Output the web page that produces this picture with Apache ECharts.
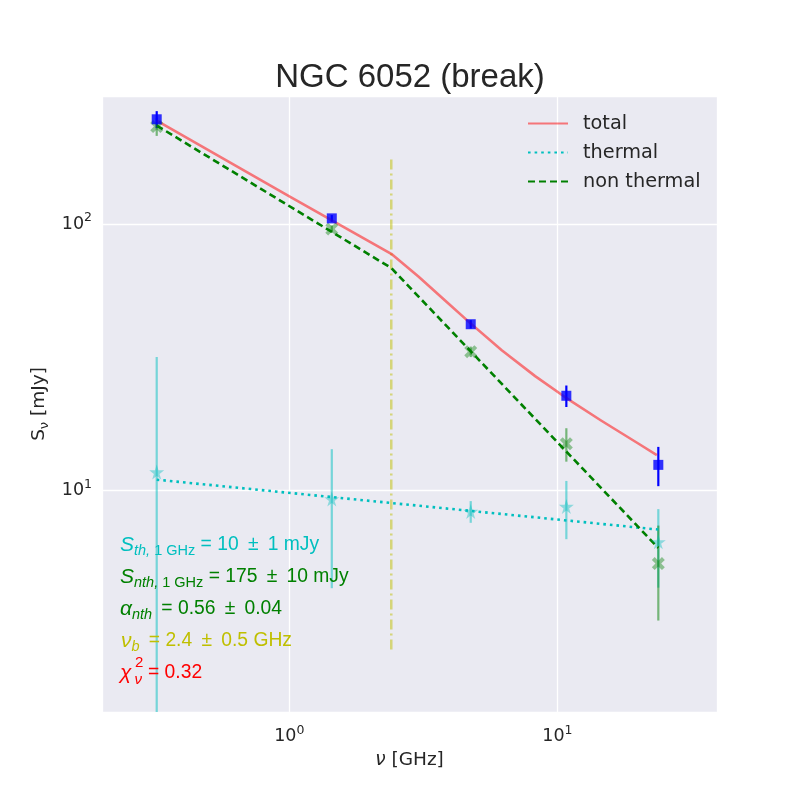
<!DOCTYPE html>
<html>
<head>
<meta charset="utf-8">
<script src="https://cdn.jsdelivr.net/npm/echarts@6/dist/echarts.min.js"></script>
<style>
html, body { margin: 0; padding: 0; background: #fff; }
#chart { width: 800px; height: 800px; }
</style>
</head>
<body>
<div id="chart"></div>
<script>
// measured points (GHz, mJy)
var freq = [0.32, 1.44, 4.75, 10.8, 23.8];
var fluxTotal = [247, 105, 42.1, 22.7, 12.5];
var errTotal = [18, 3, 1.5, 2.1, 2.1];
var fluxNth = [232, 95.8, 33.2, 15.0, 5.33];
var errNth = [18, 3, 1.5, 2.15, 2.07];
var fluxTh = [11.75, 9.31, 8.36, 8.73, 6.43];
var errTh = [20, 5, 0.78, 2.15, 2.1];

// fitted curves
var totFreq = [0.32, 1.0, 2.4, 3.03, 3.81, 4.72, 6.2, 8.26, 10.7, 14.6, 20.1, 23.5];
var totVal = [244, 127, 77.3, 63.6, 51.7, 42.6, 33.6, 26.9, 22.4, 18.3, 15.0, 13.6];
var thFreq = [0.32, 23.8];
var thVal = [11.0, 7.15];
var nthFreq = [0.32, 2.4, 23.8];
var nthVal = [234, 68.4, 6.1];

// break frequency marker
var breakFreq = 2.4;
var breakSpan = [2.54, 177];

var xMin = 0.2, xMax = 39.4;
var yMin = 1.48, yMax = 302;

function pairs(xs, ys) {
    return xs.map(function (x, i) { return [x, ys[i]]; });
}

function errSeries(xs, ys, es, color, width, z) {
    var data = xs.map(function (x, i) {
        return [x, Math.max(ys[i] - es[i], yMin), ys[i] + es[i]];
    });
    return {
        type: 'custom',
        data: data,
        encode: { x: 0, y: [1, 2] },
        clip: true,
        z: z,
        silent: true,
        renderItem: function (params, api) {
            var p1 = api.coord([api.value(0), api.value(1)]);
            var p2 = api.coord([api.value(0), api.value(2)]);
            return {
                type: 'line',
                shape: { x1: p1[0], y1: p1[1], x2: p2[0], y2: p2[1] },
                style: { stroke: color, lineWidth: width }
            };
        }
    };
}

var starPath = 'path://M50,0L61,35L98,35L68,57L79,90L50,69L21,90L32,57L2,35L39,35Z';
var crossPath = 'path://M22,0L50,28L78,0L100,22L72,50L100,78L78,100L50,72L22,100L0,78L28,50L0,22Z';

var sansMath = 'DejaVu Sans';
var sansText = 'Liberation Sans';
var ink = '#262626';

function powLabel(v) {
    var e = Math.round(Math.log10(v));
    if (Math.abs(Math.log10(v) - e) > 1e-6) return '';
    return '{b|10}{sup|' + e + '}';
}

var tickRich = {
    b: { fontSize: 17.5, fontFamily: sansMath, color: ink },
    sup: { fontSize: 12.5, fontFamily: sansMath, color: ink, padding: [0, 0, 12, 0] }
};

var thin = '\u2009';

var myChart = echarts.init(document.getElementById('chart'));

option = {
    backgroundColor: '#ffffff',
    animation: false,
    grid: {
        left: 102, right: 83, top: 96, bottom: 88,
        show: true, backgroundColor: '#EAEAF2', borderWidth: 0
    },
    legend: {
        data: ['total', 'thermal', 'non thermal'],
        orient: 'vertical',
        left: 522,
        top: 109,
        itemWidth: 40,
        itemHeight: 20,
        itemGap: 10,
        itemStyle: { color: 'rgba(0,0,0,0)', borderWidth: 0, opacity: 0 },
        textStyle: { fontSize: 19.3, fontFamily: sansMath, color: ink, padding: [0, 0, 0, 10] }
    },
    xAxis: {
        type: 'log',
        logBase: 10,
        min: xMin,
        max: xMax,
        axisLine: { show: false },
        axisTick: { show: false },
        splitLine: { show: true, lineStyle: { color: '#ffffff', width: 1.3 } },
        axisLabel: {
            showMinLabel: false, showMaxLabel: false,
            margin: 12,
            fontSize: 17.5, fontFamily: sansMath, color: ink,
            formatter: powLabel, rich: tickRich
        },
        name: '{i|ν} [GHz]',
        nameLocation: 'middle',
        nameGap: 39,
        nameTextStyle: {
            fontSize: 18.5, fontFamily: sansMath, color: ink,
            rich: { i: { fontSize: 18.5, fontFamily: sansMath, fontStyle: 'italic', color: ink } }
        }
    },
    yAxis: {
        type: 'log',
        logBase: 10,
        min: yMin,
        max: yMax,
        axisLine: { show: false },
        axisTick: { show: false },
        splitLine: { show: true, lineStyle: { color: '#ffffff', width: 1.3 } },
        axisLabel: {
            showMinLabel: false, showMaxLabel: false,
            margin: 10,
            fontSize: 17.5, fontFamily: sansMath, color: ink,
            formatter: powLabel, rich: tickRich
        },
        name: 'S{sub|ν} [mJy]',
        nameLocation: 'middle',
        nameGap: 51,
        nameTextStyle: {
            fontSize: 18.5, fontFamily: sansMath, color: ink,
            rich: { sub: { fontSize: 13, fontFamily: sansMath, color: ink, padding: [10, 0, 0, 0] } }
        }
    },
    series: [
        {
            name: 'break', type: 'line', symbol: 'none', silent: true, z: 2,
            data: [[breakFreq, breakSpan[0]], [breakFreq, breakSpan[1]]],
            lineStyle: { color: 'rgba(191,191,0,0.5)', width: 2.5, type: [10, 4, 2, 4] }
        },
        errSeries(freq, fluxTh, errTh, 'rgba(0,191,191,0.5)', 2.2, 3),
        errSeries(freq, fluxNth, errNth, 'rgba(0,128,0,0.5)', 2.2, 3),
        errSeries(freq, fluxTotal, errTotal, '#0000ff', 2.2, 4),
        {
            name: 'total', type: 'line', symbol: 'none', z: 5,
            data: pairs(totFreq, totVal),
            lineStyle: { color: 'rgba(255,0,0,0.5)', width: 2.6, join: 'round' },
            itemStyle: { color: 'rgba(255,0,0,0.5)' }
        },
        {
            name: 'thermal', type: 'line', symbol: 'none', z: 5,
            data: pairs(thFreq, thVal),
            lineStyle: { color: '#00BFBF', width: 2.6, type: [2.6, 4] },
            itemStyle: { color: '#00BFBF' }
        },
        {
            name: 'non thermal', type: 'line', symbol: 'none', z: 5,
            data: pairs(nthFreq, nthVal),
            lineStyle: { color: '#008000', width: 2.6, type: [7, 4] },
            itemStyle: { color: '#008000' }
        },
        {
            type: 'scatter', symbol: starPath, symbolSize: 15, z: 6, silent: true,
            data: pairs(freq, fluxTh),
            itemStyle: { color: 'rgba(0,191,191,0.5)' }
        },
        {
            type: 'scatter', symbol: crossPath, symbolSize: 13, z: 6, silent: true,
            data: pairs(freq, fluxNth),
            itemStyle: { color: 'rgba(0,128,0,0.5)' }
        },
        {
            type: 'scatter', symbol: 'rect', symbolSize: 10, z: 7, silent: true,
            data: pairs(freq, fluxTotal),
            itemStyle: { color: '#0000ff' }
        }
    ]
};

function note(x, y, text, color) {
    return {
        type: 'text', silent: true, z: 100,
        style: {
            text: text, x: x, y: y, verticalAlign: 'middle',
            fontSize: 19.3, fontFamily: sansText, fill: color,
            rich: {
                i: { fontSize: 21, fontFamily: sansText, fontStyle: 'italic', color: color },
                si: { fontSize: 14.5, fontFamily: sansText, fontStyle: 'italic', color: color, padding: [12, 0, 0, 0] },
                s: { fontSize: 14.5, fontFamily: sansText, color: color, padding: [12, 0, 0, 0] },
                r: { fontSize: 19.3, fontFamily: sansText, color: color }
            }
        }
    };
}

var pm = ' ' + thin + '±' + ' ' + thin;

option.graphic = [
    {
        type: 'text', silent: true,
        style: {
            text: 'NGC 6052 (break)', x: 410, y: 78, align: 'center', verticalAlign: 'middle',
            fontSize: 33, fontFamily: sansText, fill: ink
        }
    },
    note(120, 545, '{i|S}{si|th, }{s|1 GHz}{r| = 10' + pm + '1 mJy}', '#00BFBF'),
    note(120, 577, '{i|S}{si|nth, }{s|1 GHz}{r| = 175' + pm + '10 mJy}', '#008000'),
    note(120, 609, '{i|α}{si|nth}{r|' + thin + ' = 0.56' + pm + '0.04}', '#008000'),
    note(121, 641, '{i|ν}{si|b}{r|' + thin + ' = 2.4' + pm + '0.5 GHz}', '#BFBF00'),
    note(120, 673, '{i|χ}', '#FF0000'),
    note(148, 673, '{r|= 0.32}', '#FF0000'),
    {
        type: 'text', silent: true, z: 100,
        style: { text: '2', x: 135, y: 663, verticalAlign: 'middle', fontSize: 15, fontFamily: sansText, fill: '#FF0000' }
    },
    {
        type: 'text', silent: true, z: 100,
        style: { text: 'ν', x: 134.5, y: 680, verticalAlign: 'middle', fontSize: 15, fontFamily: sansText, fontStyle: 'italic', fill: '#FF0000' }
    }
];

myChart.setOption(option);
</script>
</body>
</html>
